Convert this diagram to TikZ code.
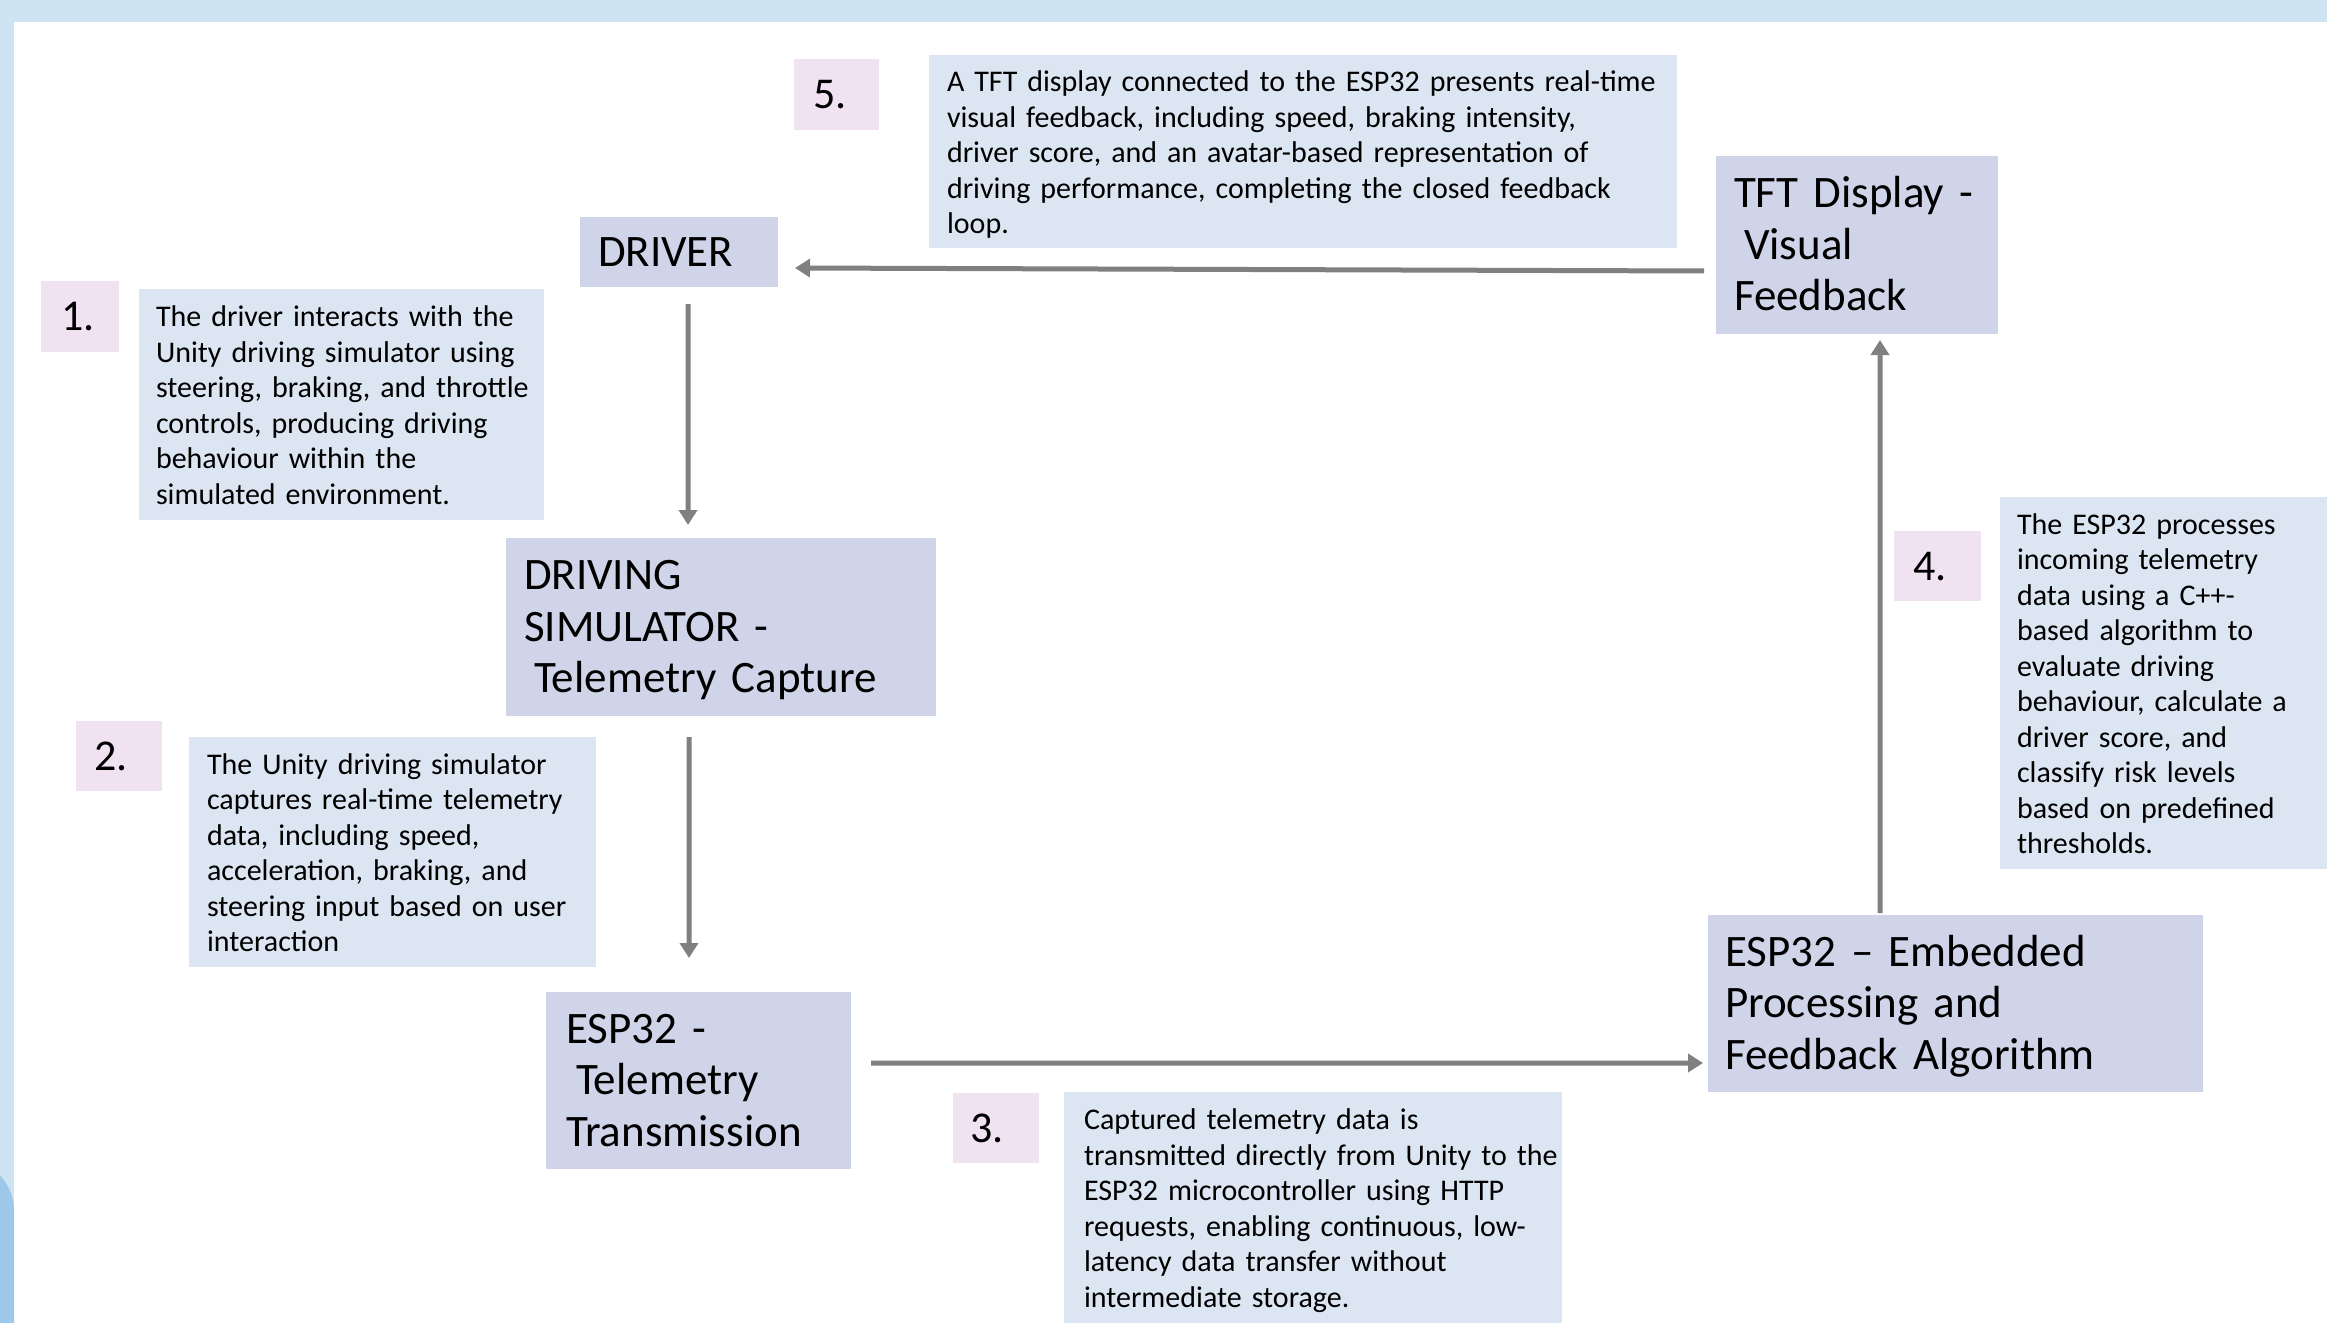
\documentclass[tikz,border=0pt]{standalone}
\usepackage{fontspec}
\setmainfont{Carlito}
\usetikzlibrary{arrows.meta}
\definecolor{bandc}{RGB}{207,228,243}
\definecolor{banddark}{RGB}{157,200,234}
\definecolor{titlec}{RGB}{208,212,232}
\definecolor{descc}{RGB}{219,230,242}
\definecolor{numc}{RGB}{240,226,240}
\definecolor{arrc}{RGB}{128,128,128}
\newcommand{\txtlines}[1]{\raisebox{-4bp}[\height][\depth]{\begin{tabular}{@{}l@{}}#1\end{tabular}}}
\begin{document}
\begin{tikzpicture}[x=1bp,y=-1bp,
  base/.style={draw=none, outer sep=0pt, inner ysep=0pt, align=left, anchor=north west, text=black},
  titlebox/.style={base, fill=titlec, font=\fontsize{45bp}{51.5bp}\selectfont},
  descbox/.style={base, fill=descc, font=\fontsize{30bp}{35.5bp}\selectfont},
  numbox/.style={base, fill=numc, font=\fontsize{44bp}{50bp}\selectfont},
  arr/.style={draw=arrc, line width=5bp, -{Triangle[length=15bp,width=18bp]}}]
\useasboundingbox (0,0) rectangle (2327,1323);
\fill[bandc] (0,0) rectangle (2327,1323);
\fill[white] (14,22) rectangle (2327,1323);
\fill[banddark] (0,1175) .. controls (8,1185) and (14,1195) .. (14,1210) -- (14,1323) -- (0,1323) -- cycle;

% main boxes
\node[titlebox, minimum width=198bp, minimum height=70bp, text width=162bp, inner xsep=18bp] (driver) at (580,217) {\txtlines{DRIVER}};
\node[titlebox, minimum width=430bp, minimum height=178bp, text width=394bp, inner xsep=18bp] (sim) at (506,538) {\txtlines{DRIVING\\SIMULATOR -\\\hspace*{10bp}Telemetry Capture}};
\node[titlebox, minimum width=305bp, minimum height=177bp, text width=265bp, inner xsep=20bp] (esptel) at (546,992) {\txtlines{ESP32 -\\\hspace*{10bp}Telemetry\\Transmission}};
\node[titlebox, minimum width=495bp, minimum height=177bp, text width=461bp, inner xsep=17bp] (espemb) at (1708,915) {\txtlines{ESP32 – Embedded\\Processing and\\Feedback Algorithm}};
\node[titlebox, minimum width=282bp, minimum height=178bp, text width=246bp, inner xsep=18bp] (tft) at (1716,156) {\txtlines{TFT Display -\\\hspace*{10bp}Visual\\Feedback}};

% number labels
\node[numbox, minimum width=78bp, minimum height=71bp, text width=38bp, inner xsep=20bp] (n1) at (41,281) {\txtlines{1.}};
\node[numbox, minimum width=86bp, minimum height=70bp, text width=50bp, inner xsep=18bp] (n2) at (76,721) {\txtlines{2.}};
\node[numbox, minimum width=86bp, minimum height=70bp, text width=52bp, inner xsep=17bp] (n3) at (953,1093) {\txtlines{3.}};
\node[numbox, minimum width=87bp, minimum height=70bp, text width=49bp, inner xsep=19bp] (n4) at (1894,531) {\txtlines{4.}};
\node[numbox, minimum width=85bp, minimum height=71bp, text width=47bp, inner xsep=19bp] (n5) at (794,59) {\txtlines{5.}};

% descriptions
\node[descbox, minimum width=405bp, minimum height=231bp, text width=371bp, inner xsep=17bp] (d1) at (139,289) {\txtlines{The driver interacts with the\\Unity driving simulator using\\steering, braking, and throttle\\controls, producing driving\\behaviour within the\\simulated environment.}};
\node[descbox, minimum width=407bp, minimum height=230bp, text width=371bp, inner xsep=18bp] (d2) at (189,737) {\txtlines{The Unity driving simulator\\captures real-time telemetry\\data, including speed,\\acceleration, braking, and\\steering input based on user\\interaction}};
\node[descbox, minimum width=498bp, minimum height=231bp, text width=458bp, inner xsep=20bp] (d3) at (1064,1092) {\txtlines{Captured telemetry data is\\transmitted directly from Unity to the\\ESP32 microcontroller using HTTP\\requests, enabling continuous, low-\\latency data transfer without\\intermediate storage.}};
\node[descbox, minimum width=327bp, minimum height=372bp, text width=293bp, inner xsep=17bp] (d4) at (2000,497) {\txtlines{The ESP32 processes\\incoming telemetry\\data using a C++-\\based algorithm to\\evaluate driving\\behaviour, calculate a\\driver score, and\\classify risk levels\\based on predefined\\thresholds.}};
\node[descbox, minimum width=748bp, minimum height=193bp, text width=712bp, inner xsep=18bp] (d5) at (929,55) {\txtlines{A TFT display connected to the ESP32 presents real-time\\visual feedback, including speed, braking intensity,\\driver score, and an avatar-based representation of\\driving performance, completing the closed feedback\\loop.}};

% connectors
\draw[arr] ([shift={(9,17)}]driver.south) -- ([shift={(-33,-13)}]sim.north);
\draw[arr] ([shift={(-32,21)}]sim.south) -- ([shift={(-9.5,-34)}]esptel.north);
\draw[arr] ([shift={(20,-17.5)}]esptel.east) -- ([shift={(-5,59.5)}]espemb.west);
\draw[arr] ([shift={(-75.5,-2)}]espemb.north) -- ([shift={(23,6)}]tft.south);
\draw[arr] ([shift={(-12,26)}]tft.west) -- ([shift={(17,16)}]driver.east);
\end{tikzpicture}
\end{document}
